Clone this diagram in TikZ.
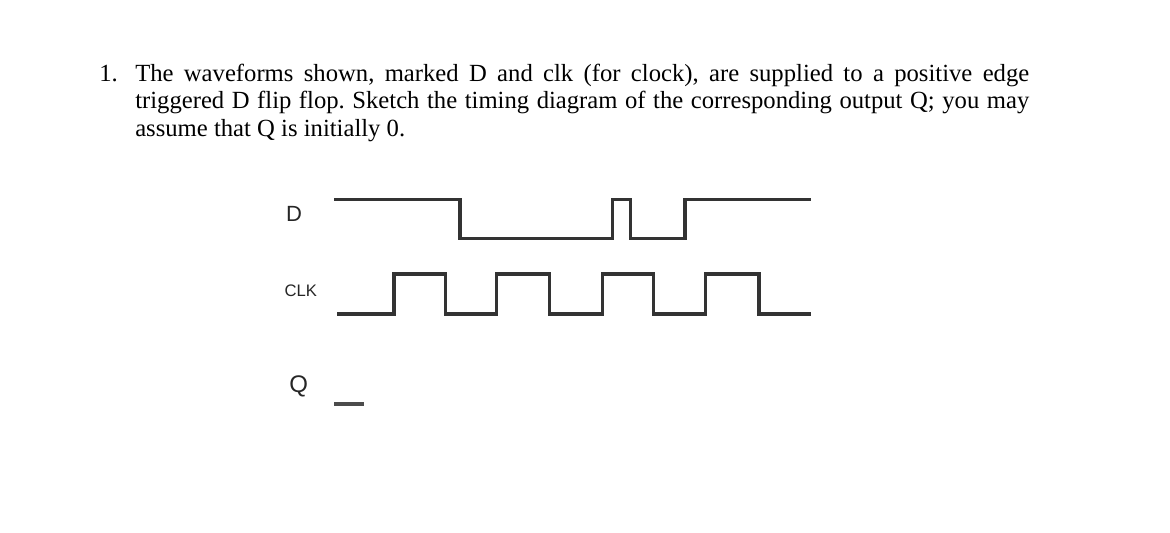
\documentclass[tikz,border=0pt]{standalone}
\usepackage{fontspec}
\setmainfont{Liberation Serif}
\newfontfamily\arialfont{Liberation Sans}
\frenchspacing
\begin{document}
\begin{tikzpicture}[x=0.75pt,y=-0.75pt,
  wave/.style={line width=2.3pt, black!80, line join=miter, line cap=rect},
  txt/.style={anchor=base west, inner sep=0pt, font=\fontsize{18.5}{21}\selectfont},
  lbl/.style={anchor=base, inner sep=0pt, text=black!85}]
\useasboundingbox (0,0) rectangle (1170,532);
% question text
\node[txt] (num) at (99,81) {1.};
\node[txt] (l1) at (135,81) {\makebox[670.5pt][s]{The waveforms shown, marked D and clk (for clock), are supplied to a positive edge}};
\node[txt] (l2) at (135,108.5) {\makebox[670.5pt][s]{triggered D flip flop. Sketch the timing diagram of the corresponding output Q; you may}};
\node[txt] (l3) at (135,136.5) {assume that Q is initially 0.};
% labels
\node[lbl, font=\arialfont\fontsize{16.5}{18}\selectfont] (dl) at (294,221.7) {D};
\node[lbl, font=\arialfont\fontsize{12.5}{14}\selectfont] (cl) at (300.8,296.7) {CLK};
\node[lbl, font=\arialfont\fontsize{18}{20}\selectfont] (ql) at (298.8,392) {Q};
% D waveform
\draw[wave] (336,199.3) -- (460,199.3) -- (460,238.8) -- (612.7,238.8) -- (612.7,199.3)
  -- (630.7,199.3) -- (630.7,238.8) -- (685,238.8) -- (685,199.3) -- (809.3,199.3);
% CLK waveform
\draw[wave] (338.3,314) -- (394,314) -- (394,274) -- (445.7,274) -- (445.7,314)
  -- (496.7,314) -- (496.7,274) -- (549.3,274) -- (549.3,314)
  -- (602.3,314) -- (602.3,274) -- (653.3,274) -- (653.3,314)
  -- (705.7,314) -- (705.7,274) -- (759,274) -- (759,314) -- (809.3,314);
% Q initial level
\draw[wave, black!70] (336,404) -- (362.5,404);
\end{tikzpicture}
\end{document}
